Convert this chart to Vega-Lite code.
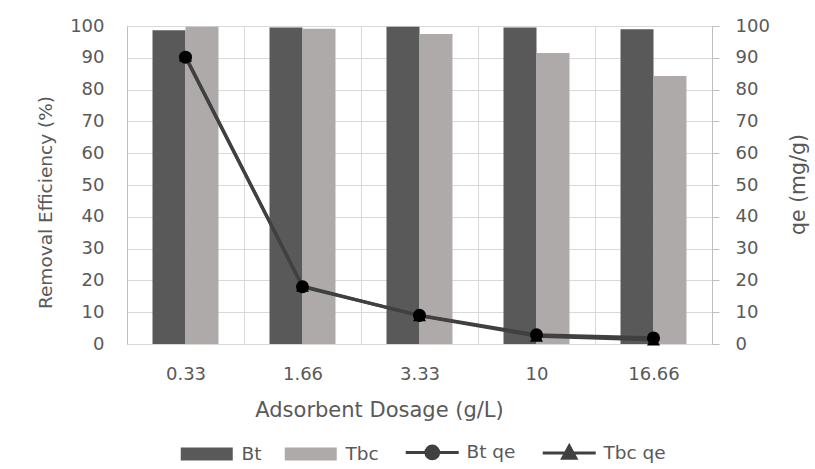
{
  "$schema": "https://vega.github.io/schema/vega-lite/v6.json",
  "width": 585,
  "height": 318,
  "autosize": {"type": "none"},
  "padding": {"left": 127, "top": 26, "right": 103, "bottom": 125},
  "background": "white",
  "config": {
    "font": "DejaVu Sans",
    "view": {"stroke": null},
    "axis": {
      "labelColor": "#595959",
      "titleColor": "#595959",
      "labelFontSize": 18,
      "titleFontSize": 18,
      "titleFontWeight": "normal",
      "gridColor": "#D9D9D9",
      "gridWidth": 1,
      "domainColor": "#BFBFBF",
      "labelOverlap": false
    }
  },
  "datasets": {
    "bars": [
      {"dosage": "0.33", "series": "Bt", "value": 98.7},
      {"dosage": "0.33", "series": "Tbc", "value": 99.8},
      {"dosage": "1.66", "series": "Bt", "value": 99.5},
      {"dosage": "1.66", "series": "Tbc", "value": 99.1},
      {"dosage": "3.33", "series": "Bt", "value": 99.8},
      {"dosage": "3.33", "series": "Tbc", "value": 97.5},
      {"dosage": "10", "series": "Bt", "value": 99.5},
      {"dosage": "10", "series": "Tbc", "value": 91.5},
      {"dosage": "16.66", "series": "Bt", "value": 99.0},
      {"dosage": "16.66", "series": "Tbc", "value": 84.3}
    ],
    "qe": [
      {"dosage": "0.33", "series": "Bt qe", "qe": 90.2},
      {"dosage": "1.66", "series": "Bt qe", "qe": 18.0},
      {"dosage": "3.33", "series": "Bt qe", "qe": 9.0},
      {"dosage": "10", "series": "Bt qe", "qe": 2.9},
      {"dosage": "16.66", "series": "Bt qe", "qe": 1.9},
      {"dosage": "0.33", "series": "Tbc qe", "qe": 90.5},
      {"dosage": "1.66", "series": "Tbc qe", "qe": 18.2},
      {"dosage": "3.33", "series": "Tbc qe", "qe": 8.9},
      {"dosage": "10", "series": "Tbc qe", "qe": 2.5},
      {"dosage": "16.66", "series": "Tbc qe", "qe": 1.3}
    ]
  },
  "layer": [
    {
      "data": {"name": "bars"},
      "mark": {"type": "bar"},
      "encoding": {
        "x": {
          "field": "dosage",
          "type": "nominal",
          "scale": {"domain": ["0.33", "1.66", "3.33", "10", "16.66"], "paddingInner": 0, "paddingOuter": 0},
          "axis": {
            "title": "Adsorbent Dosage (g/L)",
            "titleFontSize": 21,
            "labelAngle": 0,
            "ticks": false,
            "tickSize": 0,
            "labelPadding": 21,
            "grid": true,
            "tickBand": "extent",
            "domainColor": "#D9D9D9",
            "titleX": 252,
            "titleY": 66,
            "titleAlign": "center",
            "titleBaseline": "middle"
          }
        },
        "xOffset": {
          "field": "series",
          "type": "nominal",
          "scale": {"domain": ["Bt", "Tbc"], "paddingInner": 0, "paddingOuter": 0.773}
        },
        "y": {
          "field": "value",
          "type": "quantitative",
          "scale": {"domain": [0, 100], "nice": false},
          "axis": {
            "orient": "left",
            "title": "Removal Efficiency (%)",
            "titleFontSize": 18.5,
            "values": [0, 10, 20, 30, 40, 50, 60, 70, 80, 90, 100],
            "ticks": false,
            "tickSize": 0,
            "labelPadding": 23,
            "grid": true,
            "titleX": -82,
            "titleY": 176,
            "titleAngle": -90,
            "titleAlign": "center",
            "titleBaseline": "middle"
          }
        },
        "color": {
          "field": "series",
          "type": "nominal",
          "scale": {"domain": ["Bt", "Tbc", "Bt qe", "Tbc qe"], "range": ["#595959", "#AEAAAA", "#404040", "#404040"]},
          "legend": {
            "orient": "none",
            "legendX": 51,
            "legendY": 417,
            "direction": "horizontal",
            "title": null,
            "padding": 0,
            "labelFontSize": 18.5,
            "labelColor": "#595959",
            "symbolSize": 169,
            "symbolStrokeWidth": 0,
            "labelOffset": 45,
            "columnPadding": 20,
            "encode": {
              "symbols": {
                "update": {
                  "shape": {"signal": "datum.value === 'Bt' || datum.value === 'Tbc' ? 'M-1,-1H7V1H-1Z' : datum.value === 'Bt qe' ? 'M-1,0H7.15M2.1,0A0.98,0.98,0,1,0,4.06,0A0.98,0.98,0,1,0,2.1,0Z' : 'M-1,0H7.15M3.08,-1.1L4.1,0.8H2.06Z'"},
                  "fill": {"signal": "datum.value === 'Bt' ? '#595959' : datum.value === 'Tbc' ? '#AEAAAA' : '#000000'"},
                  "stroke": {"signal": "datum.value === 'Bt' || datum.value === 'Tbc' ? 'transparent' : '#404040'"},
                  "strokeWidth": {"signal": "datum.value === 'Bt' || datum.value === 'Tbc' ? 0 : 3"},
                  "size": {"value": 169},
                  "opacity": {"value": 1},
                  "fillOpacity": {"value": 1},
                  "strokeOpacity": {"value": 1}
                }
              }
            }
          }
        }
      }
    },
    {
      "data": {"name": "qe"},
      "encoding": {
        "x": {"field": "dosage", "type": "nominal"},
        "y": {
          "field": "qe",
          "type": "quantitative",
          "axis": {
            "orient": "right",
            "title": "qe (mg/g)",
            "titleFontSize": 20.5,
            "values": [0, 10, 20, 30, 40, 50, 60, 70, 80, 90, 100],
            "labelOverlap": false,
            "grid": false,
            "ticks": true,
            "tickSize": 7,
            "tickColor": "#BFBFBF",
            "labelPadding": 16,
            "titleX": 86,
            "titleY": 158,
            "titleAngle": -90,
            "titleAlign": "center",
            "titleBaseline": "middle"
          }
        }
      },
      "layer": [
        {
          "mark": {"type": "line", "strokeWidth": 3.2},
          "encoding": {
            "color": {"field": "series", "type": "nominal"}
          }
        },
        {
          "mark": {"type": "point", "filled": true, "opacity": 1, "color": "#000000", "size": 170},
          "encoding": {
            "shape": {
              "field": "series",
              "type": "nominal",
              "scale": {"domain": ["Bt qe", "Tbc qe"], "range": ["circle", "triangle-up"]},
              "legend": null
            }
          }
        }
      ]
    }
  ]
}
